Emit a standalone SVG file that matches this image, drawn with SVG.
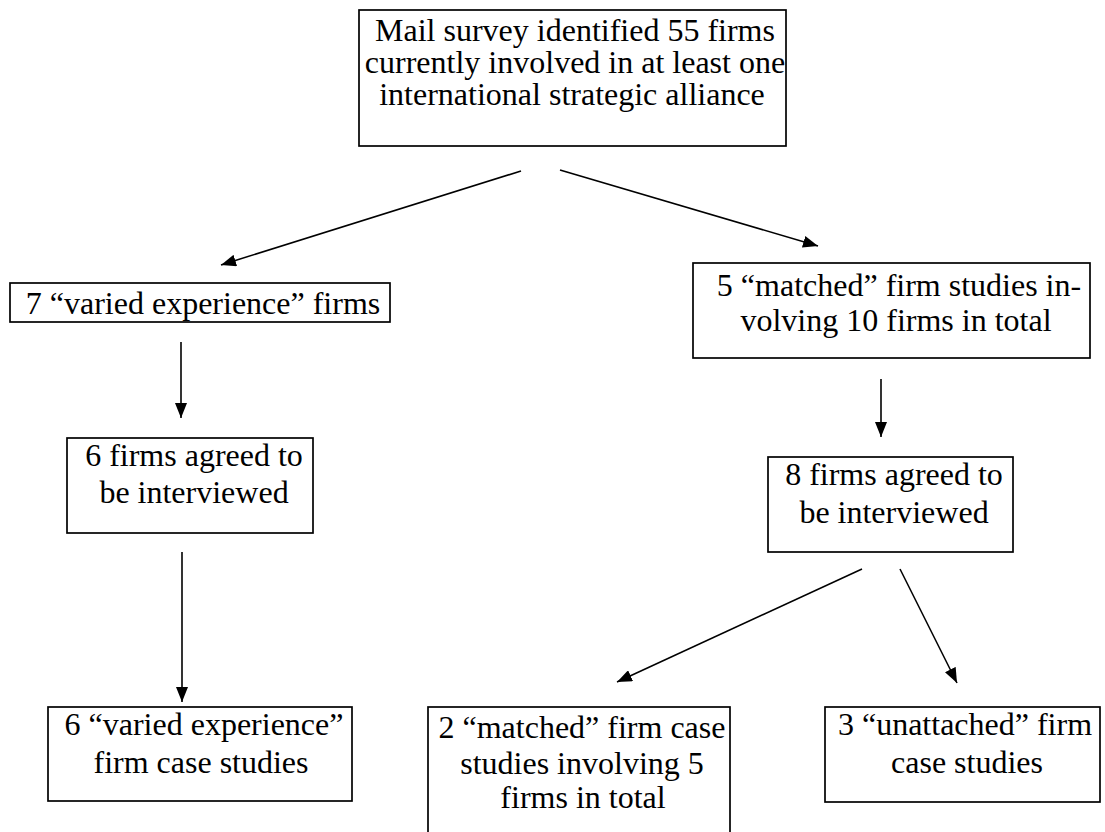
<svg xmlns="http://www.w3.org/2000/svg" width="1105" height="832" viewBox="0 0 1105 832">
  <style>
    .box { fill: #ffffff; stroke: #000000; stroke-width: 1.7; }
    .label { font-family: 'Liberation Serif', 'DejaVu Serif', serif; font-size: 32px; fill: #000000; text-anchor: middle; }
    .edge { stroke: #000000; stroke-width: 1.6; fill: none; marker-end: url(#arrow); }
  </style>
  <defs>
    <marker id="arrow" markerUnits="userSpaceOnUse" markerWidth="15" markerHeight="12" refX="15" refY="6" orient="auto">
      <path d="M0,0 L15,6 L0,12 Z" fill="#000000"/>
    </marker>
  </defs>
  <rect width="1105" height="832" fill="#ffffff"/>

  <!-- survey -->
  <g id="survey">
    <rect class="box" x="359" y="10" width="427" height="136"/>
    <text class="label" x="575" y="41">Mail survey identified 55 firms</text>
    <text class="label" x="575" y="73">currently involved in at least one</text>
    <text class="label" x="572" y="105">international strategic alliance</text>
  </g>

  <!-- varied experience branch -->
  <g id="varied">
    <rect class="box" x="10" y="283" width="380" height="39"/>
    <text class="label" x="203" y="314">7 “varied experience” firms</text>
  </g>
  <g id="varied-agreed">
    <rect class="box" x="67" y="438" width="246" height="95"/>
    <text class="label" x="194" y="466">6 firms agreed to</text>
    <text class="label" x="194" y="503">be interviewed</text>
  </g>
  <g id="varied-cases">
    <rect class="box" x="48" y="707" width="304" height="94"/>
    <text class="label" x="204" y="735">6 “varied experience”</text>
    <text class="label" x="201" y="773">firm case studies</text>
  </g>

  <!-- matched branch -->
  <g id="matched">
    <rect class="box" x="693" y="263" width="397" height="95"/>
    <text class="label" x="899" y="296">5 “matched” firm studies in-</text>
    <text class="label" x="896" y="331">volving 10 firms in total</text>
  </g>
  <g id="matched-agreed">
    <rect class="box" x="768" y="457" width="245" height="95"/>
    <text class="label" x="894" y="485">8 firms agreed to</text>
    <text class="label" x="894" y="523">be interviewed</text>
  </g>
  <g id="matched-cases">
    <rect class="box" x="428" y="707" width="302" height="140"/>
    <text class="label" x="582" y="738">2 “matched” firm case</text>
    <text class="label" x="582" y="774">studies involving 5</text>
    <text class="label" x="583" y="808">firms in total</text>
  </g>
  <g id="unattached-cases">
    <rect class="box" x="825" y="707" width="275" height="95"/>
    <text class="label" x="965" y="735">3 “unattached” firm</text>
    <text class="label" x="967" y="773">case studies</text>
  </g>

  <!-- connectors -->
  <g id="connectors">
    <line class="edge" x1="521" y1="171" x2="221" y2="265"/>
    <line class="edge" x1="560" y1="170" x2="818" y2="246"/>
    <line class="edge" x1="181" y1="342" x2="181" y2="418"/>
    <line class="edge" x1="182" y1="552" x2="182" y2="702"/>
    <line class="edge" x1="881" y1="379" x2="881" y2="437"/>
    <line class="edge" x1="862" y1="569" x2="617" y2="682"/>
    <line class="edge" x1="900" y1="569" x2="957" y2="683"/>
  </g>
</svg>
